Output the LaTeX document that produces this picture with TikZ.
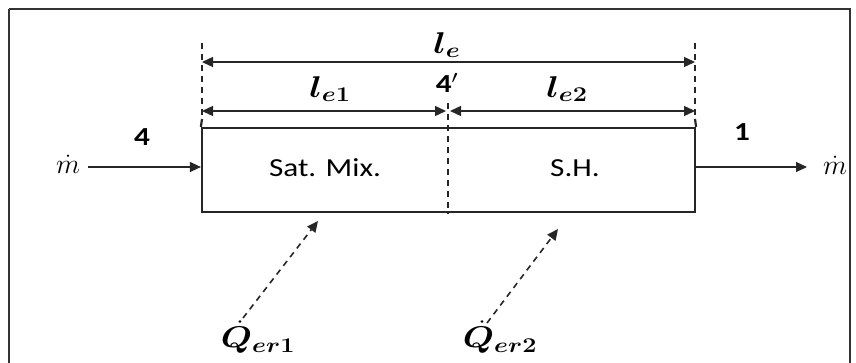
\RequirePackage{fix-cm}
\documentclass[tikz,border=0pt]{standalone}
\usepackage{amsmath,bm}
\usepackage{fontspec}
\setsansfont{Carlito}
\usetikzlibrary{arrows.meta}
\newcommand{\hs}[1]{\scalebox{1.2}[1]{#1}}
\begin{document}
\begin{tikzpicture}[x=1pt,y=-1pt,
  tri/.tip={Triangle[length=11pt,width=10pt]},
  dimline/.style={tri-tri, line width=1.3pt, draw=black!85},
  flow/.style={-tri, line width=1.1pt, draw=black!85},
  heat/.style={-tri, line width=1.6pt, draw=black!85, dash pattern=on 6pt off 5pt},
  ext/.style={line width=1.3pt, draw=black!85, dash pattern=on 6pt off 5pt},
  wall/.style={line width=2.2pt, draw=black!85},
  mlab/.style={inner sep=0pt, font=\fontsize{30}{34}\selectfont},
  mdot/.style={inner sep=0pt, font=\fontsize{28}{32}\selectfont},
  nlab/.style={inner sep=0pt, font=\sffamily\bfseries\fontsize{26}{30}\selectfont},
  tlab/.style={inner sep=0pt, font=\sffamily\fontsize{26}{30}\selectfont}]
\useasboundingbox (0,0) rectangle (856,362);
\fill[white] (0,0) rectangle (856,362);
\draw[line width=2.2pt, draw=black!80] (9,9) -- (850,9) -- (850,375) (9,375) -- (9,9);
% box
\node[wall, draw, minimum width=493pt, minimum height=84pt, inner sep=0pt] (box) at (448.5,170) {};
\draw[wall] (202,119) -- (box.north west);
\draw[wall] (695,119) -- (box.north east);
\draw[ext] (202,43) -- (202,119);
\draw[ext] (695,43) -- (695,119);
\coordinate (mtop) at (448,103);
\draw[ext, line width=1.1pt] (mtop) -- (box.south -| mtop);
% dimension lines
\coordinate (L0) at (202,62);
\coordinate (L1) at (695,62);
\coordinate (A0) at (202,111);
\coordinate (A1) at (446,111);
\coordinate (B0) at (450,111);
\coordinate (B1) at (695,111);
\draw[dimline] (L0) -- (L1);
\draw[dimline] (A0) -- (A1);
\draw[dimline] (B0) -- (B1);
\node[mlab] (le) at (447,45) {\hs{$\bm{l_e}$}};
\node[mlab] (le1) at (330,89) {\hs{$\bm{l_{e1}}$}};
\node[nlab] (p4p) at (447,83) {\hs{4$'$}};
\node[mlab] (le2) at (567,89) {\hs{$\bm{l_{e2}}$}};
% labels in box
\node[tlab] (sat) at (325,168) {\hs{Sat. Mix.}};
\node[tlab] (sh) at (575,168) {\hs{S.H.}};
% flows
\node[mdot] (min) at (68,164) {$\dot m$};
\node[mdot] (mout) at (835,165) {$\dot m$};
\coordinate (inS) at (88,167);
\coordinate (outE) at (807,167);
\draw[flow] (inS) -- (inS -| box.west);
\draw[flow] (outE -| box.east) -- (outE);
\node[nlab] (n4) at (142,137) {\hs{4}};
\node[nlab] (n1) at (742,132) {\hs{1}};
% heat
\node[mlab] (q1) at (258,337) {\hs{$\bm{\dot Q_{er1}}$}};
\node[mlab] (q2) at (500,337) {\hs{$\bm{\dot Q_{er2}}$}};
\coordinate (h1s) at (243,318);
\coordinate (h1e) at (318,221);
\coordinate (h2s) at (487,323);
\coordinate (h2e) at (558,229);
\draw[heat] (h1s) -- (h1e);
\draw[heat] (h2s) -- (h2e);
\end{tikzpicture}
\end{document}
